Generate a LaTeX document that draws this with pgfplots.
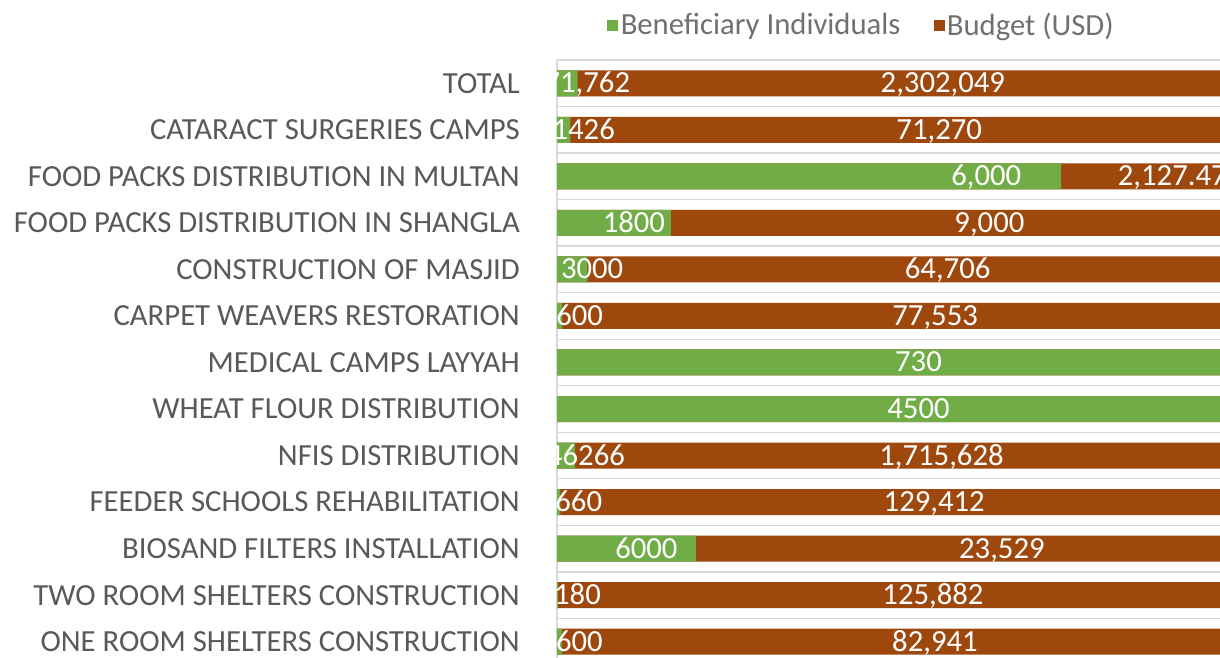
\documentclass[border=0pt]{standalone}
\usepackage{fontspec}
\setmainfont{Carlito}
\usepackage{pgfplots}
\usepackage{pgfplotstable}
\pgfplotsset{compat=1.18}
\definecolor{cgreen}{HTML}{70AD47}
\definecolor{cbrown}{HTML}{9E480E}
\definecolor{cgrid}{HTML}{D9D9D9}
\definecolor{ctext}{HTML}{595959}
\definecolor{clegend}{HTML}{707070}
\newcommand{\bigf}{\fontsize{30.7}{36}\selectfont}
\pgfplotstableread{
idx ben bud glab blab gx bx
0 600 82941 600 82,941 0 0
1 180 125882 180 125,882 0 0
2 6000 23529 6000 23,529 0 0
3 660 129412 660 129,412 0 0
4 46266 1715628 46266 1,715,628 0 0
5 4500 0 4500 {} 0 0
6 730 0 730 {} 0 0
7 600 77553 600 77,553 0 0
8 3000 64706 3000 64,706 0 0
9 1800 9000 1800 9,000 0 0
10 6000 2127.47 6,000 2,127.47 23.0 -1.8
11 1426 71270 1426 71,270 0 0
12 71762 2302049 71,762 2,302,049 0 0
}\data
\begin{document}
\begin{tikzpicture}[x=1pt,y=1pt]
\begin{axis}[
  at={(557pt,-7pt)}, anchor=south west,
  scale only axis, width=683pt, height=605pt,
  xmin=0, xmax=100, ymin=-0.5, ymax=12.5,
  axis x line=none, axis y line*=left,
  y axis line style={cgrid, line width=1.3pt},
  ytick={0,...,12},
  yticklabels={ONE ROOM SHELTERS CONSTRUCTION, TWO ROOM SHELTERS CONSTRUCTION, BIOSAND FILTERS INSTALLATION, FEEDER SCHOOLS REHABILITATION, NFIS DISTRIBUTION, WHEAT FLOUR DISTRIBUTION, MEDICAL CAMPS LAYYAH, CARPET WEAVERS RESTORATION, CONSTRUCTION OF MASJID, FOOD PACKS DISTRIBUTION IN SHANGLA, FOOD PACKS DISTRIBUTION IN MULTAN, CATARACT SURGERIES CAMPS, TOTAL},
  yticklabel style={font=\bigf, color=ctext, inner sep=0pt, xshift=-37pt},
  major tick length=0pt, minor tick length=0pt,
  minor ytick={-0.5,0.5,...,12.5},
  yminorgrids=true, minor grid style={cgrid, line width=1.3pt},
  legend style={at={(axis description cs:0.4466,1.058)}, anchor=center, draw=none, fill=none,
    font=\bigf, text=clegend, legend columns=2, column sep=0pt,
    /tikz/every even column/.append style={column sep=30pt},
    nodes={inner xsep=3pt, inner ysep=0pt}},
  legend cell align=left,
]
\addlegendimage{legend image code/.code={\fill[cgreen] (0pt,-5pt) rectangle (10pt,5pt);}}
\addlegendentry{Beneficiary Individuals}
\addlegendimage{legend image code/.code={\fill[cbrown] (0pt,-5pt) rectangle (10pt,5pt);}}
\addlegendentry{Budget (USD)}

\addplot[xbar, bar width=26pt, bar shift=0pt, fill=cbrown, draw=none, forget plot]
  table[x expr={100*(\thisrow{ben}+\thisrow{bud})/(\thisrow{ben}+\thisrow{bud})}, y=idx]{\data};
\addplot[xbar, bar width=26pt, bar shift=0pt, fill=cgreen, draw=none, forget plot]
  table[x expr={100*\thisrow{ben}/(\thisrow{ben}+\thisrow{bud})}, y=idx]{\data};

\addplot[only marks, mark=none, forget plot, point meta=explicit symbolic, nodes near coords,
  nodes near coords style={font=\bigf, text=white, anchor=center, inner sep=0pt, xshift=20pt, text height=19pt, text depth=0pt}]
  table[x expr={50*\thisrow{ben}/(\thisrow{ben}+\thisrow{bud})+\thisrow{gx}}, y=idx, meta=glab]{\data};
\addplot[only marks, mark=none, forget plot, point meta=explicit symbolic, nodes near coords,
  nodes near coords style={font=\bigf, text=white, anchor=center, inner sep=0pt, xshift=34pt, text height=19pt, text depth=0pt}]
  table[x expr={100*\thisrow{ben}/(\thisrow{ben}+\thisrow{bud})+50*\thisrow{bud}/(\thisrow{ben}+\thisrow{bud})+\thisrow{bx}}, y=idx, meta=blab]{\data};
\end{axis}
\pgfresetboundingbox
\path[use as bounding box] (0pt,0pt) rectangle (1220pt,658pt);
\end{tikzpicture}
\end{document}
